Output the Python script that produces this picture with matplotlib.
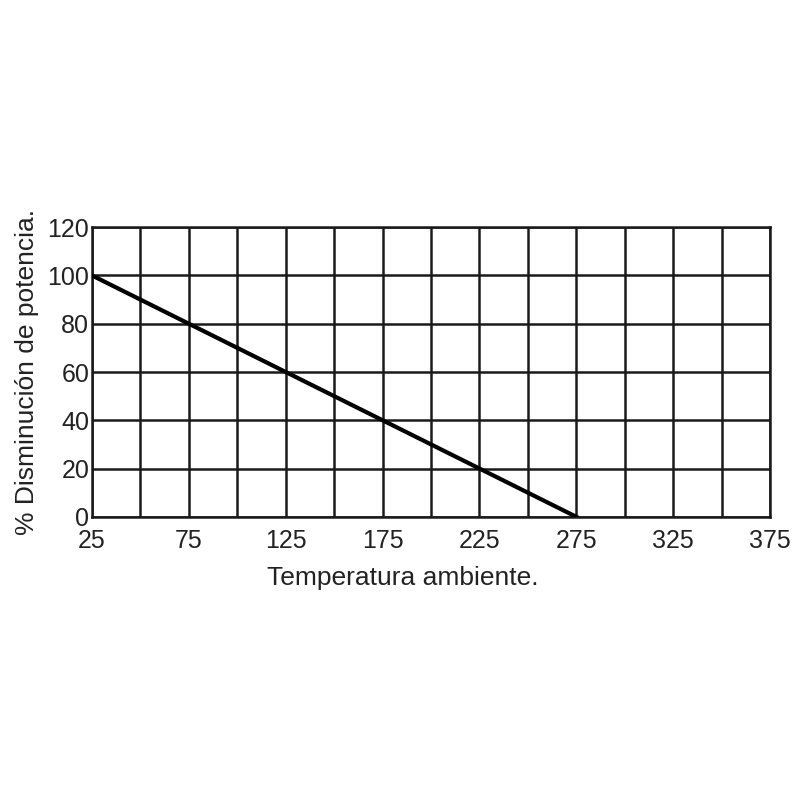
import numpy as np
import matplotlib
matplotlib.use("Agg")
import matplotlib.pyplot as plt

plt.rcParams['font.family'] = ['Liberation Sans', 'DejaVu Sans']

# data
temp = [25, 275]
derate = [100, 0]
xticks = [25, 75, 125, 175, 225, 275, 325, 375]
yticks = [0, 20, 40, 60, 80, 100, 120]

fig = plt.figure(figsize=(8, 8), dpi=100)
ax = fig.add_axes([0.115, 0.354, 0.8475, 0.362])

# grid every 25 on x, every 20 on y
for gx in np.arange(25, 376, 25):
    ax.axvline(gx, color='#1a1a1a', lw=1.8, zorder=1)
for gy in yticks:
    ax.axhline(gy, color='#1a1a1a', lw=1.8, zorder=1)

ax.plot(temp, derate, color='black', lw=3, zorder=3)

ax.set_xlim(25, 375)
ax.set_ylim(0, 120)
ax.set_xticks(xticks)
ax.set_yticks(yticks)
ax.tick_params(length=0, labelsize=18, colors='#222222')
ax.tick_params(axis='x', pad=9)
ax.tick_params(axis='y', pad=2)
for s in ax.spines.values():
    s.set_linewidth(1.8)
    s.set_color('#1a1a1a')

ax.set_xlabel('Temperatura ambiente.', fontsize=19, color='#222222')
ax.xaxis.set_label_coords(0.459, -0.17)
ax.set_ylabel('% Disminución de potencia.', fontsize=19, color='#222222', labelpad=6)

fig.savefig('out.png', dpi=100, facecolor='white')
